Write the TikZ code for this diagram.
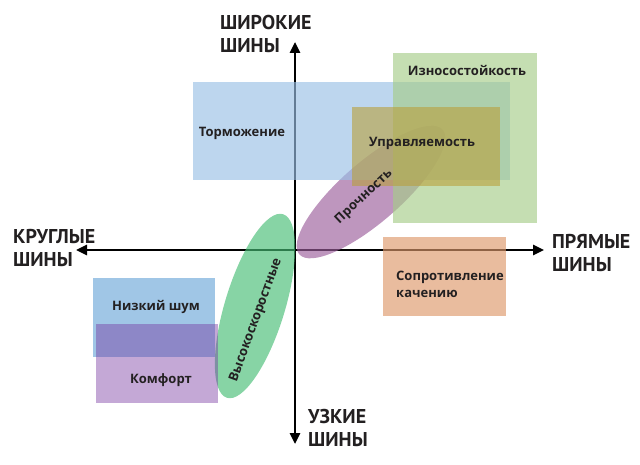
\documentclass[tikz,border=0pt]{standalone}
\usepackage{fontspec}
\setmainfont{Open Sans}
\newfontfamily\axfont{PT Sans}
\usetikzlibrary{shapes.geometric,arrows.meta}
\definecolor{ink}{RGB}{35,32,33}
\definecolor{tblue}{RGB}{153,192,229}
\definecolor{wgreen}{RGB}{166,204,137}
\definecolor{ctrlc}{RGB}{185,160,60}
\definecolor{orng}{RGB}{221,152,106}
\definecolor{lblue}{RGB}{109,167,216}
\definecolor{comf}{RGB}{118,53,160}
\definecolor{purp}{RGB}{155,93,155}
\definecolor{gell}{RGB}{70,189,117}
\begin{document}
\begin{tikzpicture}[x=1pt,y=-1pt,
  box/.style={draw=none, fill opacity=0.65, inner sep=0, anchor=north west},
  ell/.style={ellipse, draw=none, fill opacity=0.65, inner sep=0},
  lbl/.style={font=\bfseries\fontsize{13}{17}\selectfont, text=ink, inner sep=0},
  axlbl/.style={font=\axfont\bfseries\fontsize{20}{23}\selectfont, text=ink, align=left, anchor=base west, inner sep=0},
  axis/.style={line width=2.6pt, draw=black, {Triangle[length=11pt,width=10pt]}-{Triangle[length=11pt,width=10pt]}}
]
\useasboundingbox (0,0) rectangle (640,465);

% axes
\coordinate (top) at (295,42);
\coordinate (bot) at (295,444);
\coordinate (lft) at (76,250);
\coordinate (rgt) at (544,250);
\draw[axis] (bot) -- (top);
\draw[axis] (lft) -- (rgt);

% ellipses
\node[ell, fill=gell, minimum width=192pt, minimum height=60pt, rotate=73] (fast) at (255,306) {};
\node[ell, fill=purp, minimum width=190pt, minimum height=60pt, rotate=41] (strength) at (371,192) {};

% rectangles
\node[box, fill=tblue, minimum width=317pt, minimum height=98pt] (brakebox) at (193,82) {};
\node[box, fill=wgreen, minimum width=144pt, minimum height=170pt] (wearbox) at (393,53) {};
\node[box, fill=ctrlc, fill opacity=0.6, minimum width=148pt, minimum height=79pt] (ctrlbox) at (352,107) {};
\node[box, fill=orng, minimum width=123pt, minimum height=79pt] (rollbox) at (383,237) {};
\node[box, fill=lblue, minimum width=122pt, minimum height=79pt] (noisebox) at (93,278) {};
\node[box, fill=comf, fill opacity=0.43, minimum width=122pt, minimum height=79pt] (comfbox) at (96,324) {};

% labels
\node[lbl] (brake) at (242,133) {Торможение};
\node[lbl] (wear) at (467,70) {Износостойкость};
\node[lbl] (ctrl) at (422,143) {Управляемость};
\node[lbl, rotate=43] (strtxt) at (364,197) {Прочность};
\node[lbl, rotate=70] (fasttxt) at (256,320) {Высокоскоростные};
\node[lbl] (noise) at (156,307) {Низкий шум};
\node[lbl] (comfort) at (161,380) {Комфорт};
\node[lbl, align=left, anchor=base west] (roll) at (396,297) {Сопротивление\\качению};

% axis labels (anchor on the baseline of the last line)
\node[axlbl] (wide) at (220,53) {ШИРОКИЕ\\ШИНЫ};
\node[axlbl] (round) at (13,266) {КРУГЛЫЕ\\ШИНЫ};
\node[axlbl] (straight) at (552,272) {ПРЯМЫЕ\\ШИНЫ};
\node[axlbl] (narrow) at (308,446) {УЗКИЕ\\ШИНЫ};
\end{tikzpicture}
\end{document}
